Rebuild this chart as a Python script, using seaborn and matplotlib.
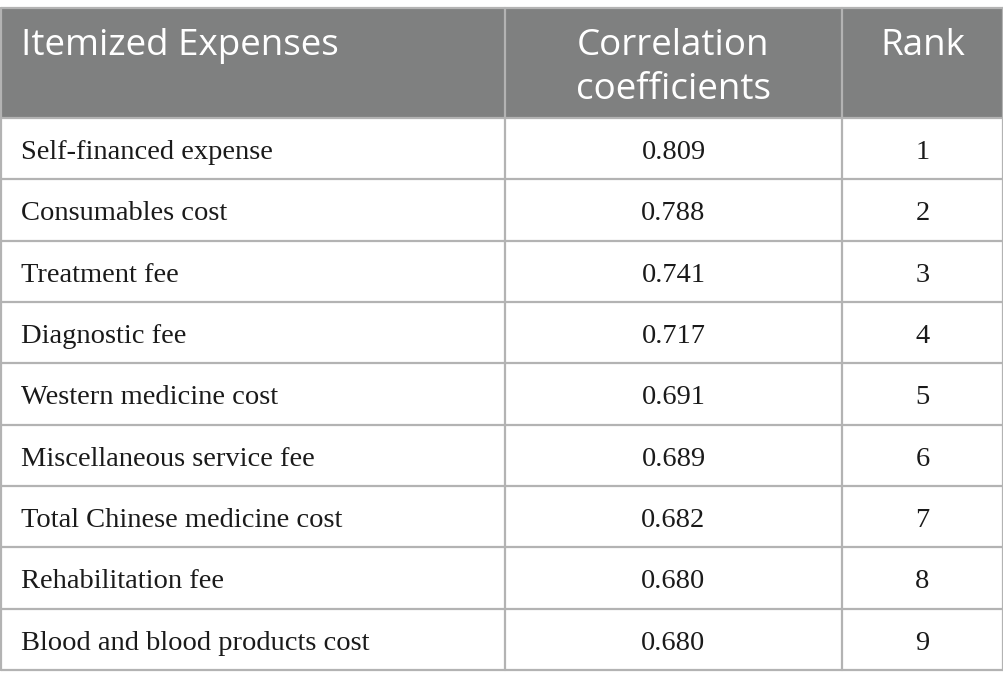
import matplotlib
matplotlib.use("Agg")
import matplotlib.pyplot as plt
import seaborn as sns

items = [
    "Self-financed expense",
    "Consumables cost",
    "Treatment fee",
    "Diagnostic fee",
    "Western medicine cost",
    "Miscellaneous service fee",
    "Total Chinese medicine cost",
    "Rehabilitation fee",
    "Blood and blood products cost",
]
coefficients = ["0.809", "0.788", "0.741", "0.717", "0.691", "0.689", "0.682", "0.680", "0.680"]
ranks = ["1", "2", "3", "4", "5", "6", "7", "8", "9"]
headers = ["Itemized Expenses", "Correlation\ncoefficients", "Rank"]

sns.set_theme(style="white")
plt.rcParams["font.family"] = ["Liberation Serif", "DejaVu Serif"]

W, H = 1004, 689
fig = plt.figure(figsize=(W / 100, H / 100), dpi=100)
ax = fig.add_axes([0, 0, 1, 1])
ax.set_xlim(0, W)
ax.set_ylim(H, 0)
ax.axis("off")

col_edges = [1, 505, 842, 1003]
top, head_bot, bottom = 8, 118, 670
n = len(items)
row_h = (bottom - head_bot) / n

header_bg = "#7f8080"
line_c = "#b3b3b3"

ax.add_patch(plt.Rectangle((col_edges[0], top), col_edges[-1] - col_edges[0], head_bot - top,
                           facecolor=header_bg, edgecolor="none", zorder=0))

lw = 1.6
ax.plot([col_edges[0], col_edges[-1]], [top, top], color=line_c, lw=lw)
for i in range(n + 1):
    y = head_bot + i * row_h
    ax.plot([col_edges[0], col_edges[-1]], [y, y], color=line_c, lw=lw)
for x in col_edges:
    ax.plot([x, x], [top, bottom], color=line_c, lw=lw)

hfont = dict(family=["Open Sans", "DejaVu Sans"], fontsize=26.5, color="white")
ax.text(21, 55, headers[0], ha="left", va="baseline", **hfont)
for j, lab in enumerate(headers[1:], start=1):
    cx = (col_edges[j] + col_edges[j + 1]) / 2
    for k, line in enumerate(lab.split("\n")):
        ax.text(cx, 55 + k * 44, line, ha="center", va="baseline", **hfont)

bfont = dict(fontsize=20.5, color="#1a1a1a")
c2 = (col_edges[1] + col_edges[2]) / 2
c3 = (col_edges[2] + col_edges[3]) / 2
for i in range(n):
    yb = head_bot + i * row_h + 41
    ax.text(21, yb, items[i], ha="left", va="baseline", **bfont)
    ax.text(c2, yb, coefficients[i], ha="center", va="baseline", **bfont)
    ax.text(c3, yb, ranks[i], ha="center", va="baseline", **bfont)

fig.savefig("out.png", dpi=100, facecolor="white")
